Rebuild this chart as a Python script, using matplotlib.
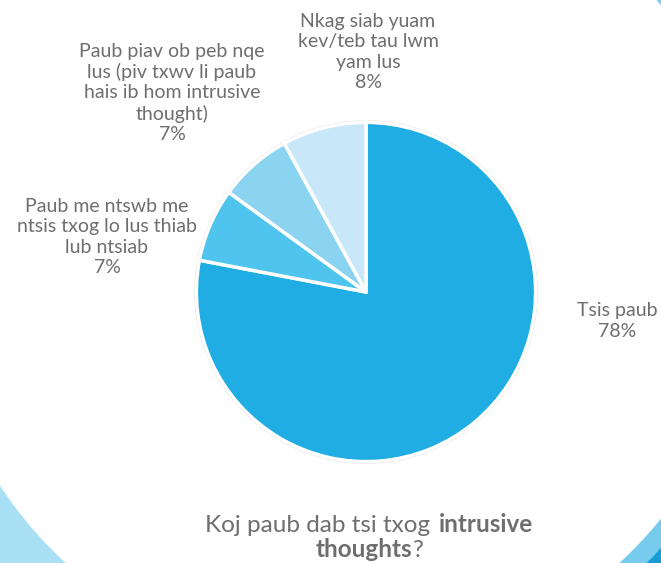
import matplotlib
matplotlib.use("Agg")
import matplotlib.pyplot as plt
from matplotlib.patches import Wedge, Circle
from matplotlib.offsetbox import TextArea, HPacker, VPacker, AnchoredOffsetbox

# Datos del gráfico
categorias = [
    "Tsis paub",
    "Paub me ntswb me\nntsis txog lo lus thiab\nlub ntsiab",
    "Paub piav ob peb nqe\nlus (piv txwv li paub\nhais ib hom intrusive\nthought)",
    "Nkag siab yuam\nkev/teb tau lwm\nyam lus",
]
porcentajes = [78, 7, 7, 8]
colores = ["#20ADE3", "#4EC4EE", "#8AD4F1", "#C8E8F9"]

gris = "#6e6e6e"
plt.rcParams["font.family"] = ["Lato", "DejaVu Sans"]

W, H = 661, 563
fig = plt.figure(figsize=(W / 100, H / 100), dpi=100)

# Fondo decorativo (arcos de color en las esquinas)
fondo = fig.add_axes([0, 0, 1, 1], zorder=0)
fondo.set_xlim(0, W)
fondo.set_ylim(H, 0)
fondo.axis("off")
centro = (342.5, 262)
fondo.add_patch(Wedge(centro, 700, 118, 172, width=700 - 409, color="#A9E0F5", lw=0))
fondo.add_patch(Wedge(centro, 700, -55, 62, width=700 - 409, color="#77CBEC", lw=0))
fondo.add_patch(Wedge(centro, 700, 35, 62, width=700 - 428, color="#1A9BD7", lw=0))

# Pastel
cx, cy, r = 366, 292, 173
ax = fig.add_axes([(cx - r) / W, (H - cy - r) / H, 2 * r / W, 2 * r / H], zorder=1)
ax.add_patch(Circle((0, 0), 1.008, facecolor="white", edgecolor="#dddddd", lw=1))
ax.pie(porcentajes, colors=colores, startangle=90, counterclock=False,
       radius=1, wedgeprops=dict(edgecolor="white", linewidth=2.5))
ax.set_xlim(-1.02, 1.02)
ax.set_ylim(-1.02, 1.02)
ax.set_aspect("equal")
ax.axis("off")

# Etiquetas (posición en píxeles de la imagen)
posiciones = [(617, 321), (107, 237), (172, 93), (368, 52)]
for cat, pct, (x, y) in zip(categorias, porcentajes, posiciones):
    fig.text(x / W, 1 - y / H, f"{cat}\n{pct}%", ha="center", va="center",
             fontsize=14, color=gris, linespacing=1.22, zorder=3)

# Título con partes en negrita
normal = dict(color=gris, fontsize=17.5)
negrita = dict(color=gris, fontsize=17.5, fontweight="bold")
linea1 = HPacker(children=[TextArea("Koj paub dab tsi txog", textprops=normal),
                           TextArea("intrusive", textprops=negrita)],
                 align="baseline", pad=0, sep=6)
linea2 = HPacker(children=[TextArea("thoughts", textprops=negrita),
                           TextArea("?", textprops=normal)],
                 align="baseline", pad=0, sep=0)
titulo = VPacker(children=[linea1, linea2], align="center", pad=0, sep=2)
caja = AnchoredOffsetbox(loc="center", child=titulo, frameon=False,
                         bbox_to_anchor=(369 / W, 1 - 537 / H),
                         bbox_transform=fig.transFigure, borderpad=0, pad=0)
fondo.add_artist(caja)

fig.savefig("out.png", dpi=100)
